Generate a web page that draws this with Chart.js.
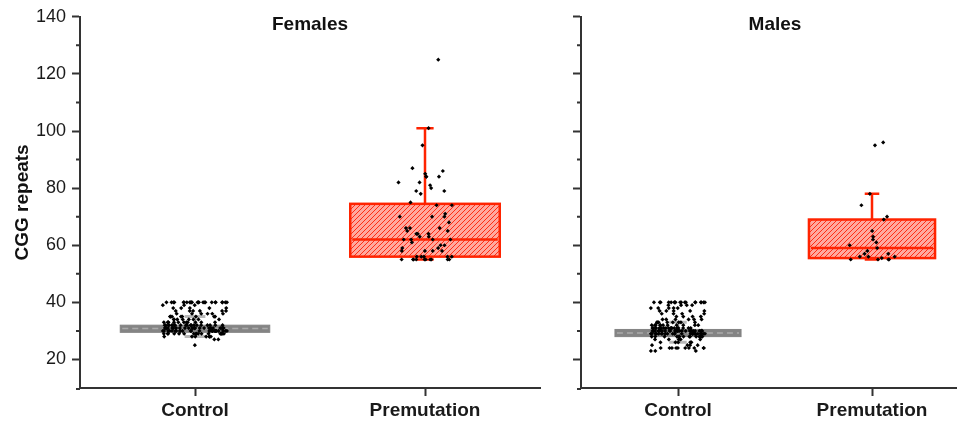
<!DOCTYPE html>
<html>
<head>
<meta charset="utf-8">
<script src="https://cdn.jsdelivr.net/npm/chart.js@4.4.1/dist/chart.umd.min.js"></script>
<style>
  html, body { margin: 0; padding: 0; background: #fff; }
  #wrap { position: relative; width: 957px; height: 421px; overflow: hidden; }
  #left { position: absolute; left: 0; top: 0; }
  #rightBox { position: absolute; left: 557px; top: 0; width: 400px; height: 421px; overflow: hidden; }
</style>
</head>
<body>
<div id="wrap">
  <canvas id="left" width="557" height="421"></canvas>
  <div id="rightBox"><canvas id="right" width="420" height="421"></canvas></div>
</div>
<script>
const categories = ['Control', 'Premutation'];
const yTicks = [20, 40, 60, 80, 100, 120, 140];
const yMinorTicks = [30, 50, 70, 90, 110, 130];

// box statistics, one entry per category
const femaleLow = [28, 55];
const femaleQ1 = [29.5, 56];
const femaleMedian = [30.8, 62];
const femaleQ3 = [32, 74.5];
const femaleHigh = [35, 101];

const maleLow = [26, 55];
const maleQ1 = [28, 55.5];
const maleMedian = [29.3, 59];
const maleQ3 = [30.5, 69];
const maleHigh = [33, 78];

// control groups: repeat value and how many points sit on it
const femaleControlValues = [40, 39, 38, 37, 36, 35, 34, 33, 32, 31, 30, 29, 28, 27, 25];
const femaleControlCounts = [24, 3, 5, 6, 6, 8, 8, 12, 20, 26, 28, 18, 7, 2, 1];
const maleControlValues = [40, 39, 38, 37, 36, 35, 34, 33, 32, 31, 30, 29, 28, 27, 26, 25, 24, 23];
const maleControlCounts = [18, 4, 5, 5, 4, 4, 6, 8, 12, 20, 30, 28, 14, 5, 5, 4, 10, 3];

const femalePremutation = [125, 101, 95, 87, 86, 84, 85, 84, 84, 82, 81, 80, 82, 79, 79, 78, 75, 74, 74, 71,
  70, 70, 70, 68, 66, 66, 66, 65, 65, 64, 64, 64, 63, 63, 62, 62, 62, 62, 61, 60, 60, 58, 58, 58, 58,
  59, 59, 56, 56, 56, 56, 56, 55, 55, 55, 55, 55, 55, 55, 55, 55, 55];
const malePremutation = [96, 95, 78, 74, 70, 69, 65, 63, 62, 60, 61, 59, 58, 57, 57, 56, 56, 56, 55.5, 55, 55, 55, 55];

Chart.defaults.font.family = "'Liberation Sans', Arial, sans-serif";
Chart.defaults.color = '#222';

function expand(values, counts) {
  const out = [];
  values.forEach((v, i) => { for (let k = 0; k < counts[i]; k++) out.push(v); });
  return out;
}

// spread points sideways so they don't stack (fixed hash, same every run)
function jitter(values, cat, spread) {
  return values.map((v, i) => {
    const h = Math.sin((i + 1) * 12.9898 + cat * 78.233) * 43758.5453;
    const f = h - Math.floor(h);
    return { x: cat + (f - 0.5) * 2 * spread, y: v };
  });
}

function hatch() {
  const c = document.createElement('canvas');
  c.width = 5; c.height = 5;
  const g = c.getContext('2d');
  g.fillStyle = 'rgb(255,168,158)';
  g.fillRect(0, 0, 5, 5);
  g.strokeStyle = 'rgb(255,45,20)';
  g.lineWidth = 1;
  g.beginPath();
  g.moveTo(0, 5); g.lineTo(5, 0);
  g.moveTo(-1, 1); g.lineTo(1, -1);
  g.moveTo(4, 6); g.lineTo(6, 4);
  g.stroke();
  return g.createPattern(c, 'repeat');
}

const gray = {
  fill: 'rgb(132,132,132)', border: 'rgb(132,132,132)', borderWidth: 1,
  median: 'rgb(170,170,170)', medianWidth: 1.5, dash: [6, 4],
  whisker: 'rgb(185,185,185)', whiskerWidth: 3, cap: 0.09
};
const red = {
  fill: hatch(), border: 'rgb(255,35,0)', borderWidth: 2.5,
  median: 'rgb(255,35,0)', medianWidth: 2.5, dash: [],
  whisker: 'rgb(255,35,0)', whiskerWidth: 2.5, cap: 0.075
};
const boxWidth = 0.65;

const boxPlugin = {
  id: 'boxes',
  beforeDatasetsDraw(chart, args, opts) {
    const { ctx } = chart;
    const xs = chart.scales.x, ys = chart.scales.y;
    const s = opts.stats;
    categories.forEach((c, i) => {
      const st = i === 0 ? gray : red;
      const cx = xs.getPixelForValue(i);
      const hw = xs.getPixelForValue(i + boxWidth / 2) - cx;
      const cw = xs.getPixelForValue(i + st.cap / 2) - cx;
      const yLo = ys.getPixelForValue(s.low[i]);
      const yQ1 = ys.getPixelForValue(s.q1[i]);
      const yMed = ys.getPixelForValue(s.median[i]);
      const yQ3 = ys.getPixelForValue(s.q3[i]);
      const yHi = ys.getPixelForValue(s.high[i]);
      ctx.save();
      ctx.strokeStyle = st.whisker;
      ctx.lineWidth = st.whiskerWidth;
      ctx.beginPath();
      ctx.moveTo(cx, yQ3); ctx.lineTo(cx, yHi);
      ctx.moveTo(cx - cw, yHi); ctx.lineTo(cx + cw, yHi);
      ctx.moveTo(cx, yQ1); ctx.lineTo(cx, yLo);
      ctx.moveTo(cx - cw, yLo); ctx.lineTo(cx + cw, yLo);
      ctx.stroke();
      ctx.fillStyle = st.fill;
      ctx.fillRect(cx - hw, yQ3, 2 * hw, yQ1 - yQ3);
      ctx.strokeStyle = st.border;
      ctx.lineWidth = st.borderWidth;
      ctx.strokeRect(cx - hw, yQ3, 2 * hw, yQ1 - yQ3);
      ctx.strokeStyle = st.median;
      ctx.lineWidth = st.medianWidth;
      ctx.setLineDash(st.dash);
      ctx.beginPath();
      ctx.moveTo(cx - hw + 2, yMed); ctx.lineTo(cx + hw - 2, yMed);
      ctx.stroke();
      ctx.restore();
    });
  }
};

const decoPlugin = {
  id: 'deco',
  afterDraw(chart, args, opts) {
    const { ctx, chartArea } = chart;
    const ys = chart.scales.y;
    ctx.save();
    // minor ticks on the y axis
    ctx.strokeStyle = '#333';
    ctx.lineWidth = 2;
    ctx.beginPath();
    yMinorTicks.forEach(v => {
      const y = ys.getPixelForValue(v);
      ctx.moveTo(chartArea.left - 4, y); ctx.lineTo(chartArea.left, y);
    });
    // x axis runs a little past the y axis
    ctx.moveTo(chartArea.left - 4, chartArea.bottom + 1); ctx.lineTo(chartArea.left, chartArea.bottom + 1);
    ctx.stroke();
    ctx.fillStyle = '#111';
    ctx.font = "bold 19px 'Liberation Sans', Arial, sans-serif";
    ctx.textAlign = 'center';
    ctx.textBaseline = 'middle';
    ctx.fillText(opts.text, (chartArea.left + chartArea.right) / 2, 25);
    ctx.restore();
  }
};

function makeChart(id, title, stats, controlPts, premPts, leftWidth, padRight, showLabels) {
  return new Chart(document.getElementById(id), {
    type: 'scatter',
    data: {
      datasets: [
        { data: jitter(controlPts, 0, 0.14) },
        { data: jitter(premPts, 1, 0.12) }
      ]
    },
    options: {
      responsive: false,
      animation: false,
      layout: { padding: { top: 16, right: padRight, left: 0, bottom: 0 } },
      elements: {
        point: { pointStyle: 'rectRot', radius: 2.1, backgroundColor: '#000', borderWidth: 0 }
      },
      scales: {
        x: {
          type: 'linear', min: -0.5, max: 1.5,
          afterBuildTicks: s => { s.ticks = categories.map((c, i) => ({ value: i })); },
          afterFit: s => { s.height = 33; },
          grid: { drawOnChartArea: false, tickLength: 8, tickColor: '#333', tickWidth: 2 },
          border: { color: '#333', width: 2 },
          ticks: {
            padding: 3, color: '#1a1a1a',
            font: { size: 19, weight: 'bold' },
            callback: v => categories[v]
          }
        },
        y: {
          min: 10, max: 140,
          afterBuildTicks: s => { s.ticks = yTicks.map(v => ({ value: v })); },
          afterFit: s => { s.width = leftWidth; },
          grid: { drawOnChartArea: false, tickLength: 8, tickColor: '#333', tickWidth: 2 },
          border: { color: '#333', width: 2 },
          ticks: {
            padding: 6, color: '#1a1a1a',
            font: { size: 18 },
            callback: v => showLabels ? v : ''
          },
          title: {
            display: showLabels, text: 'CGG repeats', color: '#111',
            font: { size: 19, weight: 'bold' },
            padding: { top: 11, bottom: 0 }
          }
        }
      },
      plugins: {
        legend: { display: false },
        tooltip: { enabled: false },
        boxes: { stats },
        deco: { text: title }
      }
    },
    plugins: [boxPlugin, decoPlugin]
  });
}

makeChart('left', 'Females',
  { low: femaleLow, q1: femaleQ1, median: femaleMedian, q3: femaleQ3, high: femaleHigh },
  expand(femaleControlValues, femaleControlCounts), femalePremutation, 80, 17, true);

makeChart('right', 'Males',
  { low: maleLow, q1: maleQ1, median: maleMedian, q3: maleQ3, high: maleHigh },
  expand(maleControlValues, maleControlCounts), malePremutation, 24, 8, false);
</script>
</body>
</html>
